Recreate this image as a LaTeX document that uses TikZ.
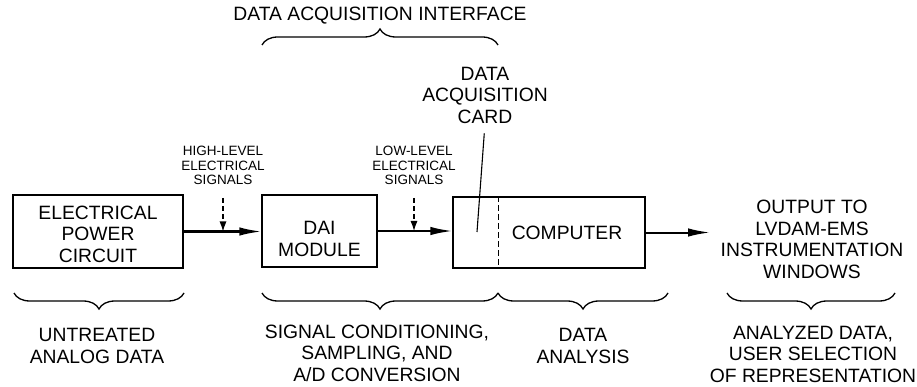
\documentclass[tikz,border=0pt]{standalone}
\usepackage{fontspec}
\setmainfont{Liberation Sans}
\usetikzlibrary{arrows.meta,decorations.pathreplacing,calc}
\begin{document}
\begin{tikzpicture}[x=1pt,y=-1pt,
 box/.style={draw,line width=1.5pt,inner sep=0pt},
 big/.style={font=\fontsize{19.3}{21.5}\selectfont,align=center,inner sep=0pt},
 small/.style={font=\fontsize{13.5}{14.5}\selectfont,align=center,inner sep=0pt},
 flow/.style={line width=2pt,-{Latex[length=22pt,width=8.5pt]}},
 sig/.style={line width=1.1pt,dash pattern=on 5pt off 3pt,-{Latex[length=10pt,width=7pt]}},
 brc/.style={decorate,decoration={brace,amplitude=16pt},line width=1.3pt},
 thin/.style={line width=1.1pt}]
\useasboundingbox (0,0) rectangle (917,387);
% boxes
\node[box,minimum width=170pt,minimum height=73pt] (epc) at (98,231.5) {};
\node[big] (epct) at (98,234) {ELECTRICAL\\POWER\\CIRCUIT};
\node[box,minimum width=115pt,minimum height=72pt] (dai) at (319.5,231) {};
\node[big] (100) at (319.5,239) {DAI\\MODULE};
\node[box,minimum width=192pt,minimum height=71pt] (comp) at (549,232.5) {};
\node[big] (compt) at (567,233) {COMPUTER};
\draw[thin,dash pattern=on 6pt off 3pt] ($(comp.north west)!0.24!(comp.north east)$) -- ($(comp.south west)!0.24!(comp.south east)$);
% flow arrows
\draw[flow] (epc.east) -- (dai.west |- epc.east);
\draw[flow] (dai.east) -- (comp.west |- dai.east);
\coordinate (out) at (710,232.5);
\draw[flow] (comp.east) -- (out);
\node[big] (outt) at (812,239.5) {OUTPUT TO\\LVDAM-EMS\\INSTRUMENTATION\\WINDOWS};
% signal labels
\node[small] (hl) at (223,165.5) {HIGH-LEVEL\\ELECTRICAL\\SIGNALS};
\node[small] (ll) at (414,165.5) {LOW-LEVEL\\ELECTRICAL\\SIGNALS};
\draw[sig] ([yshift=-13pt]hl.south) -- (hl.south |- epc.east);
\draw[sig] ([yshift=-13pt]ll.south) -- (ll.south |- dai.east);
% card label
\node[big] (card) at (485,95) {DATA\\ACQUISITION\\CARD};
\coordinate (cardp) at (477,232);
\draw[thin,shorten <=10pt] (card.south) -- (cardp);
% top
\node[big] (daiif) at (380,16) {DATA ACQUISITION INTERFACE};
\draw[brc] (262,45) -- (498,45);
% bottom braces
\draw[brc] (184,293) -- (14,293);
\draw[brc] (498,293) -- (262,293);
\draw[brc] (668,293) -- (498,293);
\draw[brc] (895,293) -- (727,293);
\node[big] (b1) at (97,346) {UNTREATED\\ANALOG DATA};
\node[big] (b2) at (377,353) {SIGNAL CONDITIONING,\\SAMPLING, AND\\A/D CONVERSION};
\node[big] (b3) at (583,346) {DATA\\ANALYSIS};
\node[big] (b4) at (813,354) {ANALYZED DATA,\\USER SELECTION\\OF REPRESENTATION};
\end{tikzpicture}
\end{document}
